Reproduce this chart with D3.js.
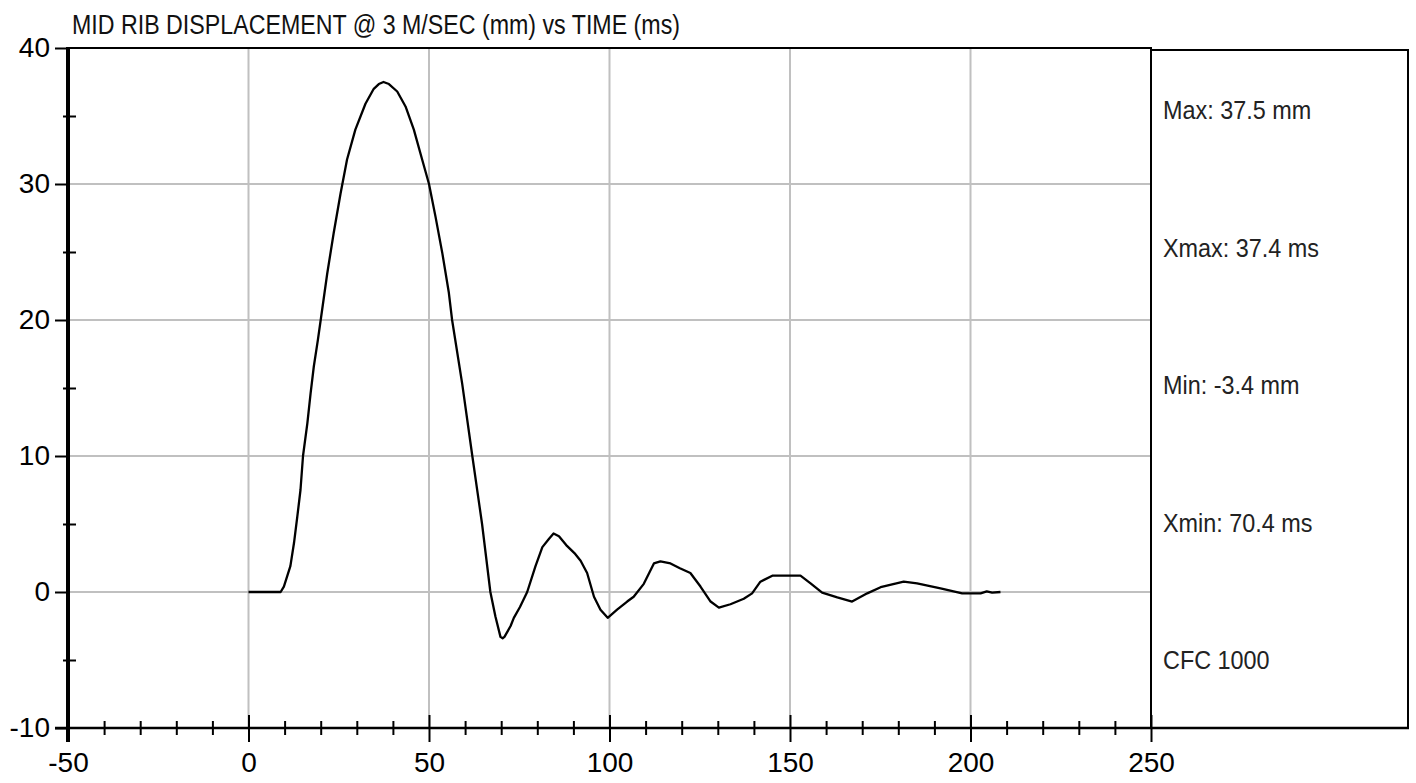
<!DOCTYPE html>
<html>
<head>
<meta charset="utf-8">
<script src="https://cdn.jsdelivr.net/npm/d3@7"></script>
<style>
  html, body { margin: 0; padding: 0; background: #fff; }
  svg { display: block; }
</style>
</head>
<body>
<svg id="chart" width="1416" height="783"></svg>
<script>
// ---------------- data ----------------
const title = "MID RIB DISPLACEMENT @ 3 M/SEC (mm) vs TIME (ms)";
const timeMs = [0, 8.9, 9.8, 11.6, 12.6, 13.5, 14.4, 15.1, 16.3, 17.2, 18.1, 19.2, 20.0, 21.8, 23.6, 25.5, 27.3, 29.6, 32.4, 34.7, 36.1, 37.4, 38.9, 41.2, 43.5, 45.8, 48.1, 50.0, 51.8, 53.7, 55.5, 56.4, 59.2, 62.0, 64.7, 67.0, 68.4, 69.8, 70.4, 70.9, 72.6, 73.5, 75.2, 77.2, 79.5, 81.4, 83.2, 84.5, 86.0, 88.0, 90.5, 92.0, 93.8, 95.7, 97.5, 99.5, 102.1, 104.9, 106.7, 109.5, 112.3, 114.1, 116.9, 119.5, 122.4, 125.2, 128.0, 130.3, 133.5, 137.2, 139.5, 141.8, 145.1, 152.9, 155.7, 158.9, 163.1, 167.2, 171.4, 175.1, 181.5, 185.2, 191.7, 197.7, 202.8, 204.5, 206.0, 208.3];
const dispMm = [0, 0, 0.4, 1.9, 3.6, 5.5, 7.5, 10.0, 12.4, 14.6, 16.6, 18.5, 20.0, 23.4, 26.4, 29.3, 31.8, 34.0, 35.9, 37.0, 37.35, 37.5, 37.35, 36.8, 35.7, 34.0, 31.8, 30.0, 27.6, 24.9, 22.0, 20.0, 15.3, 10.0, 5.0, 0, -1.8, -3.3, -3.4, -3.3, -2.5, -1.9, -1.1, 0, 1.9, 3.3, 3.9, 4.3, 4.1, 3.45, 2.8, 2.3, 1.4, -0.35, -1.3, -1.9, -1.3, -0.7, -0.35, 0.6, 2.1, 2.25, 2.1, 1.75, 1.4, 0.4, -0.7, -1.15, -0.9, -0.5, -0.1, 0.76, 1.2, 1.2, 0.64, -0.05, -0.4, -0.7, -0.1, 0.35, 0.76, 0.64, 0.27, -0.1, -0.1, 0.05, -0.05, 0];
const xMajorTicks = [-50, 0, 50, 100, 150, 200, 250];
const xMinorTicks = [-40, -30, -20, -10, 10, 20, 30, 40, 60, 70, 80, 90, 110, 120, 130, 140, 160, 170, 180, 190, 210, 220, 230, 240];
const yMajorTicks = [-10, 0, 10, 20, 30, 40];
const yMinorTicks = [-5, 5, 15, 25, 35];
const xGrid = [0, 50, 100, 150, 200];
const yGrid = [0, 10, 20, 30];
const statLabels = ["Max: 37.5 mm", "Xmax: 37.4 ms", "Min: -3.4 mm", "Xmin: 70.4 ms", "CFC 1000"];

// ---------------- layout ----------------
const L = 68, R = 1151, T = 48, B = 728;
const boxR = 1408, boxT = 50;
const tickFont = "'Liberation Sans', Arial, sans-serif";

const svg = d3.select("#chart");
const x = d3.scaleLinear().domain([-50, 250]).range([L, R]);
const y = d3.scaleLinear().domain([-10, 40]).range([B, T]);
const fmt = d => String(d);

// grid
svg.append("g").selectAll("line").data(xGrid).join("line")
  .attr("x1", d => x(d)).attr("x2", d => x(d))
  .attr("y1", T).attr("y2", B)
  .attr("stroke", "#c0c0c0").attr("stroke-width", 2);
svg.append("g").selectAll("line").data(yGrid).join("line")
  .attr("x1", L).attr("x2", R)
  .attr("y1", d => y(d)).attr("y2", d => y(d))
  .attr("stroke", "#c0c0c0").attr("stroke-width", 2);

// top border & right box
svg.append("line").attr("x1", L).attr("x2", R).attr("y1", T).attr("y2", T)
  .attr("stroke", "#000").attr("stroke-width", 2);
svg.append("line").attr("x1", R).attr("x2", R).attr("y1", T - 1).attr("y2", B)
  .attr("stroke", "#000").attr("stroke-width", 2);
svg.append("rect").attr("x", R).attr("y", boxT).attr("width", boxR - R).attr("height", B - boxT)
  .attr("fill", "none").attr("stroke", "#000").attr("stroke-width", 2);

// curve
const line = d3.line().x((d, i) => x(timeMs[i])).y(d => y(d));
svg.append("path").datum(dispMm)
  .attr("d", line)
  .attr("fill", "none").attr("stroke", "#000").attr("stroke-width", 2.3)
  .attr("stroke-linejoin", "round");

// x axis
const gx = svg.append("g").attr("transform", `translate(0,${B})`)
  .call(d3.axisBottom(x).tickValues(xMajorTicks).tickSize(14).tickPadding(10).tickFormat(fmt));
gx.select(".domain").remove();
gx.selectAll(".tick line").attr("y1", -13).attr("stroke", "#000").attr("stroke-width", 2);
gx.selectAll(".tick text").attr("font-family", tickFont).attr("font-size", 28).attr("fill", "#000");
const gxm = svg.append("g").attr("transform", `translate(0,${B})`)
  .call(d3.axisBottom(x).tickValues(xMinorTicks).tickSize(7).tickFormat(""));
gxm.select(".domain").remove();
gxm.selectAll(".tick line").attr("y1", -7).attr("stroke", "#000").attr("stroke-width", 2);
svg.append("line").attr("x1", L - 13).attr("x2", boxR + 1).attr("y1", B).attr("y2", B)
  .attr("stroke", "#000").attr("stroke-width", 2.5);

// y axis
const gy = svg.append("g").attr("transform", `translate(${L},0)`)
  .call(d3.axisLeft(y).tickValues(yMajorTicks).tickSize(13).tickPadding(5).tickFormat(fmt));
gy.select(".domain").remove();
gy.selectAll(".tick line").attr("stroke", "#000").attr("stroke-width", 2);
gy.selectAll(".tick text").attr("font-family", tickFont).attr("font-size", 28).attr("fill", "#000");
const gym = svg.append("g").attr("transform", `translate(${L},0)`)
  .call(d3.axisLeft(y).tickValues(yMinorTicks).tickSize(5).tickFormat(""));
gym.select(".domain").remove();
gym.selectAll(".tick line").attr("x2", 8).attr("x1", -5).attr("stroke", "#000").attr("stroke-width", 2);
svg.append("line").attr("x1", L).attr("x2", L).attr("y1", T - 1).attr("y2", B + 14)
  .attr("stroke", "#000").attr("stroke-width", 4);

// title (narrow look: Liberation Sans compressed)
svg.append("text").attr("x", 72).attr("y", 34)
  .attr("font-family", tickFont).attr("font-size", 27).attr("fill", "#111")
  .attr("textLength", 608).attr("lengthAdjust", "spacingAndGlyphs")
  .text(title);

// stats
const statY = d3.scalePoint().domain(statLabels).range([110, 660]);
svg.append("g").selectAll("text").data(statLabels).join("text")
  .attr("transform", d => `translate(1163,${statY(d)}) scale(0.9,1)`)
  .attr("dy", "0.36em")
  .attr("font-family", tickFont).attr("font-size", 26).attr("fill", "#222")
  .text(d => d);
</script>
</body>
</html>
